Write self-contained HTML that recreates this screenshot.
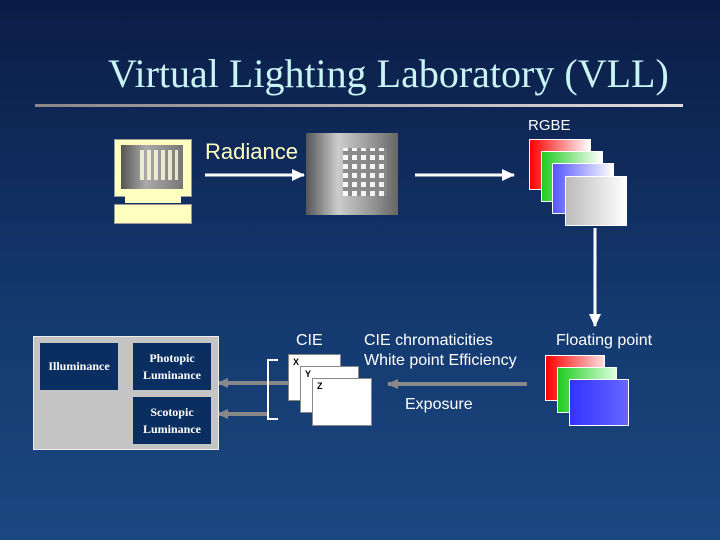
<!DOCTYPE html>
<html><head><style>
body{margin:0}
#c{position:relative;width:720px;height:540px;overflow:hidden;background:linear-gradient(#0b1c46,#143a70 60%,#1b4780);font-family:"Liberation Sans",sans-serif}
.a{position:absolute}
.t{position:absolute;white-space:nowrap}
</style></head><body><div id="c">
<div class="t" style="left:108px;top:50px;font-family:'Liberation Serif',serif;font-size:40px;color:#c8f4f4">Virtual Lighting Laboratory (VLL)</div>
<div class="a" style="left:35px;top:104px;width:648px;height:3px;background:linear-gradient(90deg,#888,#ddd)"></div>
<!-- monitor -->
<div class="a" style="left:114px;top:139px;width:76px;height:56px;background:#ffffc0;border:1px solid #999"></div>
<div class="a" style="left:121px;top:145px;width:62px;height:44px;background:linear-gradient(90deg,#555,#aaa 40%,#777);"></div>
<div class="a" style="left:140px;top:150px;width:38px;height:30px;background:repeating-linear-gradient(90deg,#ffd 0 4px,transparent 4px 7px);opacity:.8"></div>
<div class="a" style="left:125px;top:196px;width:56px;height:7px;background:#ffffc0"></div>
<div class="a" style="left:114px;top:204px;width:76px;height:18px;background:#ffffc0;border:1px solid #999"></div>
<div class="t" style="left:205px;top:139px;font-size:22px;color:#ffffc0">Radiance</div>
<svg class="a" style="left:0;top:0" width="720" height="540">
<defs><marker id="w" markerWidth="14" markerHeight="14" refX="12" refY="6" orient="auto" markerUnits="userSpaceOnUse"><path d="M0,0L13,6L0,12z" fill="#fff"/></marker>
<marker id="g" markerWidth="12" markerHeight="12" refX="10" refY="5" orient="auto" markerUnits="userSpaceOnUse"><path d="M0,0L11,5L0,10z" fill="#888"/></marker></defs>
<line x1="205" y1="175" x2="304" y2="175" stroke="#fff" stroke-width="3" marker-end="url(#w)"/>
<line x1="415" y1="175" x2="514" y2="175" stroke="#fff" stroke-width="3" marker-end="url(#w)"/>
<line x1="595" y1="228" x2="595" y2="326" stroke="#fff" stroke-width="3" marker-end="url(#w)"/>
<line x1="527" y1="384" x2="388" y2="384" stroke="#888" stroke-width="4" marker-end="url(#g)"/>
<line x1="300" y1="383" x2="218" y2="383" stroke="#888" stroke-width="4" marker-end="url(#g)"/>
<line x1="267" y1="414" x2="218" y2="414" stroke="#888" stroke-width="4" marker-end="url(#g)"/>
<line x1="133" y1="373" x2="118" y2="373" stroke="#888" stroke-width="4" marker-end="url(#g)"/>
<path d="M278,360H268V419H278" fill="none" stroke="#fff" stroke-width="2"/>
</svg>
<!-- render image -->
<div class="a" style="left:306px;top:133px;width:92px;height:82px;background:linear-gradient(90deg,#555,#ccc 35%,#999 70%,#666)"></div>
<div class="a" style="left:343px;top:148px;width:44px;height:48px;background:repeating-linear-gradient(90deg,transparent 0 5px,#888 5px 9px),repeating-linear-gradient(0deg,#fff 0 5px,#888 5px 9px);opacity:.9"></div>
<div class="t" style="left:528px;top:117px;font-size:15px;color:#fff">RGBE</div>
<div class="a" style="left:529px;top:139px;width:60px;height:49px;background:linear-gradient(90deg,#f00,#fff);border:1px solid #fff"></div>
<div class="a" style="left:541px;top:151px;width:60px;height:49px;background:linear-gradient(90deg,#2c2,#fff);border:1px solid #fff"></div>
<div class="a" style="left:552px;top:163px;width:60px;height:49px;background:linear-gradient(90deg,#55f,#fff);border:1px solid #fff"></div>
<div class="a" style="left:565px;top:176px;width:60px;height:48px;background:linear-gradient(90deg,#bbb,#fff);border:1px solid #fff"></div>
<div class="t" style="left:556px;top:332px;font-size:16px;color:#fff">Floating point</div>
<div class="a" style="left:545px;top:355px;width:58px;height:44px;background:linear-gradient(90deg,#f00,#fdd);border:1px solid #fff"></div>
<div class="a" style="left:557px;top:367px;width:58px;height:44px;background:linear-gradient(90deg,#2c2,#dfd);border:1px solid #fff"></div>
<div class="a" style="left:569px;top:379px;width:58px;height:45px;background:linear-gradient(90deg,#33f,#66f);border:1px solid #fff"></div>
<div class="t" style="left:364px;top:331px;font-size:16px;color:#fff;line-height:20px">CIE chromaticities<br>White point Efficiency</div>
<div class="t" style="left:405px;top:396px;font-size:16px;color:#fff">Exposure</div>
<div class="t" style="left:296px;top:332px;font-size:16px;color:#fff">CIE</div>
<div class="a" style="left:288px;top:354px;width:53px;height:47px;background:#fff;border:1px solid #888;font:bold 9px 'Liberation Sans';padding:2px 4px;box-sizing:border-box">X</div>
<div class="a" style="left:300px;top:366px;width:59px;height:47px;background:#fff;border:1px solid #888;font:bold 9px 'Liberation Sans';padding:2px 4px;box-sizing:border-box">Y</div>
<div class="a" style="left:312px;top:378px;width:60px;height:48px;background:#fff;border:1px solid #888;font:bold 9px 'Liberation Sans';padding:2px 4px;box-sizing:border-box">Z</div>
<!-- gray box -->
<div class="a" style="left:33px;top:336px;width:186px;height:114px;background:#c4c4c4;border:1px solid #eee;box-sizing:border-box"></div>
<div class="a" style="left:40px;top:343px;width:78px;height:47px;background:#0a2e60;color:#fff;font:bold 12px 'Liberation Serif',serif;display:flex;align-items:center;justify-content:center">Illuminance</div>
<div class="a" style="left:133px;top:343px;width:78px;height:47px;background:#0a2e60;color:#fff;font:bold 12px 'Liberation Serif',serif;display:flex;align-items:center;justify-content:center;text-align:center;line-height:17px">Photopic<br>Luminance</div>
<div class="a" style="left:133px;top:397px;width:78px;height:47px;background:#0a2e60;color:#fff;font:bold 12px 'Liberation Serif',serif;display:flex;align-items:center;justify-content:center;text-align:center;line-height:17px">Scotopic<br>Luminance</div>
</div></body></html>
